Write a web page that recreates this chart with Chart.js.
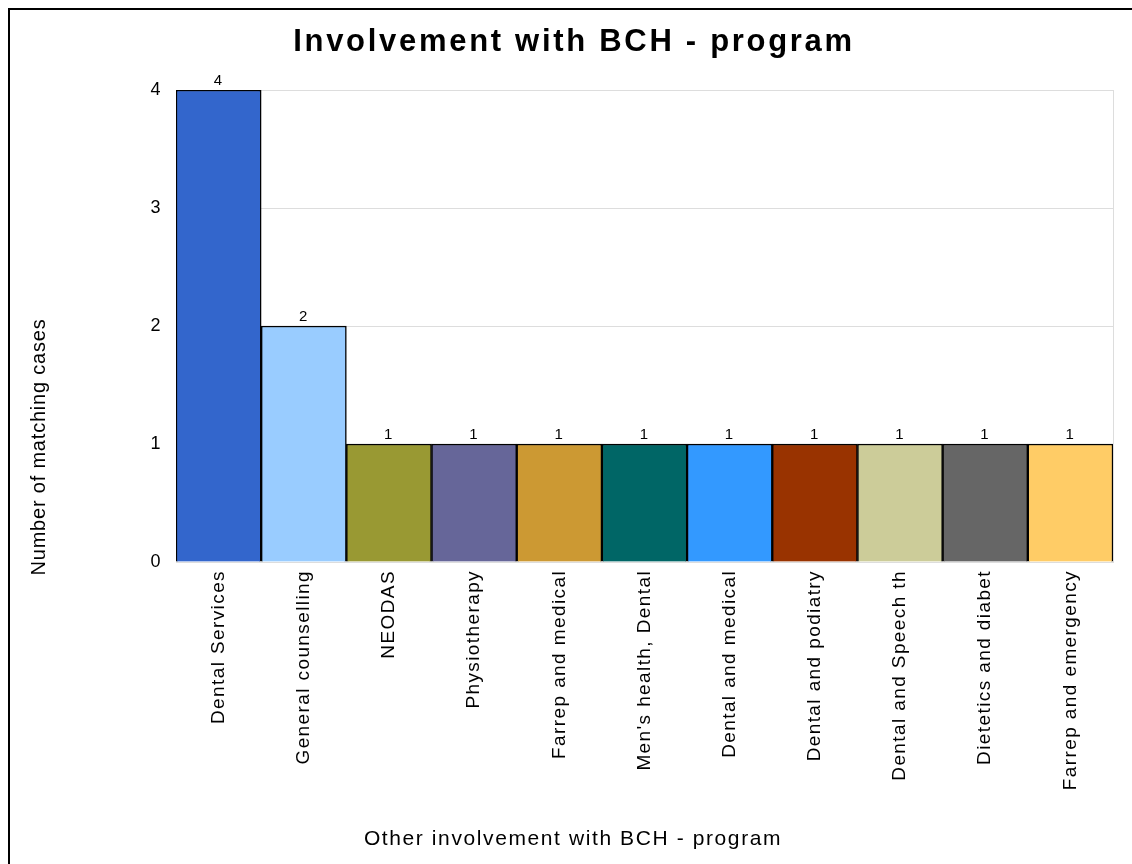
<!DOCTYPE html>
<html>
<head>
<meta charset="utf-8">
<script src="https://cdn.jsdelivr.net/npm/chart.js@4.4.1/dist/chart.umd.min.js"></script>
<style>
  html, body { margin: 0; padding: 0; background: #fff; overflow: hidden; }
  canvas { display: block; }
</style>
</head>
<body>
<canvas id="chart" width="1132" height="864"></canvas>
<script>
// Chart data
var categories = ['Dental Services', 'General counselling', 'NEODAS', 'Physiotherapy', 'Farrep and medical',
    "Men's health, Dental", 'Dental and medical', 'Dental and podiatry', 'Dental and Speech th',
    'Dietetics and diabet', 'Farrep and emergency'];
var cases = [4, 2, 1, 1, 1, 1, 1, 1, 1, 1, 1];
var barColors = ['#3366CC', '#99CCFF', '#999933', '#666699', '#CC9933', '#006666',
    '#3399FF', '#993300', '#CCCC99', '#666666', '#FFCC66'];
var yTicks = [0, 1, 2, 3, 4];

var chartTitle = 'Involvement with BCH - program';
var xTitle = 'Other involvement with BCH - program';
var yTitle = 'Number of matching cases';

var FONT = "'Liberation Sans', Arial, sans-serif";

// outer frame (top and left line), grey plot outline, letter spacing for tick text
var framePlugin = {
    id: 'frame',
    beforeDraw: function (chart) {
        var ctx = chart.ctx;
        ctx.save();
        ctx.fillStyle = '#fff';
        ctx.fillRect(0, 0, chart.width, chart.height);
        ctx.strokeStyle = '#000';
        ctx.lineWidth = 2;
        ctx.beginPath();
        ctx.moveTo(9, chart.height);
        ctx.lineTo(9, 9);
        ctx.lineTo(chart.width, 9);
        ctx.stroke();
        ctx.restore();
        ctx.letterSpacing = '1.4px';
    },
    beforeDatasetsDraw: function (chart) {
        var a = chart.chartArea, ctx = chart.ctx;
        ctx.save();
        ctx.strokeStyle = '#dddddd';
        ctx.lineWidth = 1;
        ctx.strokeRect(a.left + 0.5, a.top + 0.5, a.right - a.left, a.bottom - a.top);
        ctx.restore();
    },
    afterDraw: function (chart) {
        chart.ctx.letterSpacing = '0px';
    }
};

// value labels above the bars + chart / axis titles centred on the whole picture
var textPlugin = {
    id: 'texts',
    afterDatasetsDraw: function (chart) {
        var ctx = chart.ctx;
        var meta = chart.getDatasetMeta(0);
        ctx.save();
        ctx.font = '15px ' + FONT;
        ctx.fillStyle = '#000';
        ctx.textAlign = 'center';
        ctx.textBaseline = 'bottom';
        meta.data.forEach(function (bar, i) {
            ctx.fillText(cases[i], bar.x, bar.y - 2);
        });
        ctx.restore();
    },
    afterDraw: function (chart) {
        var ctx = chart.ctx;
        ctx.save();
        ctx.fillStyle = '#000';
        ctx.textAlign = 'center';
        ctx.textBaseline = 'middle';

        ctx.font = 'bold 31px ' + FONT;
        ctx.letterSpacing = '2.7px';
        ctx.fillText(chartTitle, 574, 42);

        ctx.font = '21px ' + FONT;
        ctx.letterSpacing = '1.6px';
        ctx.fillText(xTitle, 573, 839);

        ctx.font = '20px ' + FONT;
        ctx.letterSpacing = '0.8px';
        ctx.translate(39, 447);
        ctx.rotate(-Math.PI / 2);
        ctx.fillText(yTitle, 0, 0);
        ctx.restore();
        ctx.letterSpacing = '0px';
    }
};

new Chart(document.getElementById('chart'), {
    type: 'bar',
    data: {
        labels: categories,
        datasets: [{
            data: cases,
            backgroundColor: barColors,
            borderColor: '#000',
            borderWidth: 1.5,
            barPercentage: 1,
            categoryPercentage: 1
        }]
    },
    options: {
        responsive: false,
        animation: false,
        layout: { padding: { left: 10, right: 19, top: 90, bottom: 0 } },
        plugins: {
            legend: { display: false },
            tooltip: { enabled: false },
            title: { display: false }
        },
        scales: {
            x: {
                grid: { display: false },
                border: { display: true, color: '#000' },
                ticks: {
                    color: '#000',
                    font: { family: FONT, size: 19 },
                    minRotation: 90,
                    maxRotation: 90,
                    padding: 0
                },
                afterFit: function (scale) { scale.height = 302; }
            },
            y: {
                min: 0,
                max: 4,
                afterBuildTicks: function (scale) {
                    scale.ticks = yTicks.map(function (v) { return { value: v }; });
                },
                grid: { color: '#dddddd', drawTicks: false },
                border: { display: true, color: '#000' },
                ticks: {
                    color: '#000',
                    font: { family: FONT, size: 18 },
                    padding: 14
                },
                afterFit: function (scale) { scale.width = 166; }
            }
        }
    },
    plugins: [framePlugin, textPlugin]
});
</script>
</body>
</html>
